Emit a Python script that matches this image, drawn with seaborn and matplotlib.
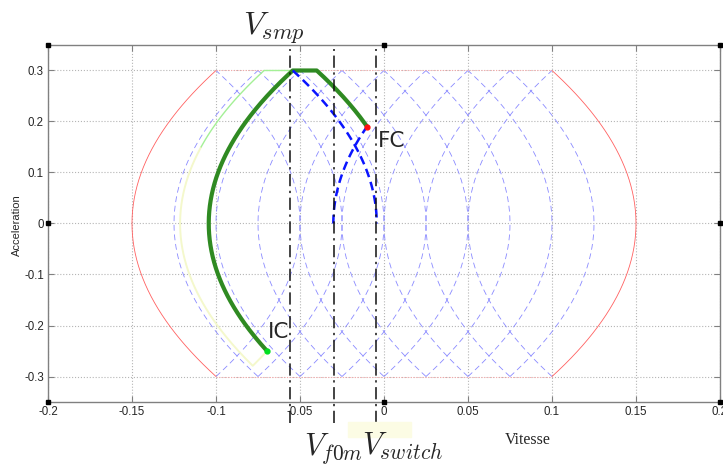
import numpy as np
import pandas as pd
import seaborn as sns
import matplotlib.pyplot as plt
from matplotlib.patches import Rectangle

# ------------------------------------------------------------------------------------------------ #
# Values (vitesse, acceleration)
JERK = 0.9            # dv = a^2 / (2 * JERK): 0.05 of speed for 0.3 of acceleration
A_MAX = 0.3
V_LIMIT = 0.15        # vertex of the red boundary curves

# vertices (a = 0) of the thin blue dashed jerk parabolas
blue_open_right = [-0.125, -0.1, -0.075, -0.05, -0.025, 0.0, 0.025, 0.05]
blue_open_left = [-0.05, -0.025, 0.0, 0.025, 0.05, 0.075, 0.1, 0.125]

ic_point = [-0.0696, -0.25]
fc_point = [-0.0101, 0.19]
pale_a_min = -0.279

v_lines = [-0.056, -0.03, -0.005]
x_ticks = [-0.2, -0.15, -0.1, -0.05, 0, 0.05, 0.1, 0.15, 0.2]
x_tick_labels = ["-0.2", "-0.15", "-0.1", "-0.05", "0", "0.05", "0.1", "0.15", "0.2"]
y_ticks = [-0.3, -0.2, -0.1, 0, 0.1, 0.2, 0.3]
y_tick_labels = ["-0.3", "-0.2", "-0.1", "0", "0.1", "0.2", "0.3"]
# ------------------------------------------------------------------------------------------------ #

sns.set_style("whitegrid", {"grid.linestyle": ":", "grid.color": "#b5b5b5",
                            "axes.edgecolor": "#808080", "xtick.direction": "in",
                            "ytick.direction": "in"})
plt.rcParams["mathtext.fontset"] = "cm"
plt.rcParams["font.family"] = ["DejaVu Sans"]

W, H = 723, 465


def px(x, y):
    """Pixel position of the reference to figure fraction."""
    return x / W, 1 - y / H


def parabola(vertex, sign, a):
    return vertex + sign * a ** 2 / (2 * JERK)


def frame(parts):
    v = np.concatenate([p[0] for p in parts])
    a = np.concatenate([p[1] for p in parts])
    return pd.DataFrame({"v": v, "a": a})


def curve(df, ax, **kws):
    sns.lineplot(data=df, x="v", y="a", sort=False, estimator=None, ax=ax, legend=False, **kws)


fig = plt.figure(figsize=(W / 100, H / 100), dpi=100)
ax = fig.add_axes([48 / W, 63 / H, 672 / W, 357 / H])

a_full = np.linspace(-A_MAX, A_MAX, 200)
dv_max = A_MAX ** 2 / (2 * JERK)

# thin blue dashed jerk parabolas
rows = []
for i, c in enumerate(blue_open_right):
    rows.append(pd.DataFrame({"v": parabola(c, 1, a_full), "a": a_full, "curve": f"r{i}"}))
for i, c in enumerate(blue_open_left):
    rows.append(pd.DataFrame({"v": parabola(c, -1, a_full), "a": a_full, "curve": f"l{i}"}))
blue = pd.concat(rows, ignore_index=True)
curve(blue, ax, units="curve", color="#8a8aff", lw=0.6, linestyle=(0, (7, 4.5)))

# red boundary
for sign in (1, -1):
    red = pd.DataFrame({"v": parabola(-sign * V_LIMIT, sign, a_full), "a": a_full})
    curve(red, ax, color="#ff6060", lw=0.6)
for a_lim in (A_MAX, -A_MAX):
    edge = pd.DataFrame({"v": [-V_LIMIT + dv_max, V_LIMIT - dv_max], "a": [a_lim, a_lim]})
    curve(edge, ax, color="#ffa8a8", lw=0.7, linestyle=(0, (1, 1.5)))

# pale trajectory from IC
c_down = parabola(ic_point[0], 1, ic_point[1])
c_up = parabola(parabola(c_down, -1, pale_a_min), -1, pale_a_min)
a1 = np.linspace(ic_point[1], pale_a_min, 20)
a2 = np.linspace(pale_a_min, 0.15, 120)
a3 = np.linspace(0.15, A_MAX, 60)
green_c1 = parabola(ic_point[0], -1, ic_point[1])
green_top = green_c1 + dv_max
pale_low = frame([(parabola(c_down, -1, a1), a1), (parabola(c_up, 1, a2), a2)])
pale_high = frame([(parabola(c_up, 1, a3), a3),
                   (np.array([c_up + dv_max, green_top]), np.array([A_MAX, A_MAX]))])
curve(pale_low, ax, color="#f4f8cc", lw=1.4)
curve(pale_high, ax, color="#a4f096", lw=1.0)

# thick green optimal trajectory
g1 = np.linspace(ic_point[1], A_MAX, 200)
green_c3 = parabola(fc_point[0], 1, fc_point[1])
g3 = np.linspace(A_MAX, fc_point[1], 60)
green = frame([(parabola(green_c1, 1, g1), g1),
               (np.array([green_top, green_c3 - dv_max]), np.array([A_MAX, A_MAX])),
               (parabola(green_c3, -1, g3), g3)])
curve(green, ax, color="#2f8a22", lw=3.0)

# thick blue dashed switching curves
b1 = np.linspace(A_MAX, 0, 80)
b2 = np.linspace(0, fc_point[1], 60)
sw1 = pd.DataFrame({"v": parabola(green_top + dv_max, -1, b1), "a": b1})
sw2 = pd.DataFrame({"v": parabola(parabola(fc_point[0], -1, fc_point[1]), 1, b2), "a": b2})
for sw in (sw1, sw2):
    curve(sw, ax, color="#0a14ff", lw=1.8, linestyle=(0, (3.5, 2)))

# end points
ax.plot(ic_point[0], ic_point[1], "o", color="#00e020", ms=3.5, zorder=6)
ax.plot(fc_point[0], fc_point[1], "o", color="#ff1010", ms=3.5, zorder=6)

# vertical dash-dot speed markers, running past the axes
for v in v_lines:
    ax.plot([v, v], [-0.392, 0.343], color="#111111", lw=1.1,
            linestyle=(0, (8, 3, 1.5, 3)), clip_on=False, zorder=7)

ax.set_xlim(-0.2, 0.2)
ax.set_ylim(-0.35, 0.35)
ax.set_xticks(x_ticks, x_tick_labels, family="Liberation Sans", fontsize=8.3)
ax.set_yticks(y_ticks, y_tick_labels, family="Liberation Sans", fontsize=8.3)
ax.tick_params(which="both", length=4, color="#808080", top=True, right=True,
               bottom=True, left=True, pad=3)
ax.set_xlabel("")
ax.set_ylabel("")
for s in ax.spines.values():
    s.set_linewidth(1.0)
    s.set_color("#808080")

# little black handles of the original figure
hx = [-0.2, 0, 0.2, -0.2, 0.2, -0.2, 0, 0.2]
hy = [0.35, 0.35, 0.35, 0, 0, -0.35, -0.35, -0.35]
ax.plot(hx, hy, "s", color="black", ms=2.5, clip_on=False, zorder=8)

# texts
fig.patches.append(Rectangle(px(348, 437), 63 / W, 15 / H, transform=fig.transFigure,
                             color="#fcfce4", zorder=0))
fig.text(*px(243, 35), "$V_{smp}$", fontsize=23, ha="left", va="baseline")
fig.text(*px(304, 455), "$V_{f0m}$", fontsize=22, ha="left", va="baseline")
fig.text(*px(362, 455), "$V_{switch}$", fontsize=22, ha="left", va="baseline")
fig.text(*px(268, 338), "IC", fontsize=15.5, ha="left", va="baseline")
fig.text(*px(378, 147), "FC", fontsize=15.5, ha="left", va="baseline")
fig.text(*px(17, 225), "Acceleration", fontsize=8, family="Liberation Sans",
         rotation=90, ha="center", va="center")
fig.text(*px(528, 440), "Vitesse", fontsize=11.5, family="Liberation Serif",
         ha="center", va="center")

fig.savefig("out.png", dpi=100)
